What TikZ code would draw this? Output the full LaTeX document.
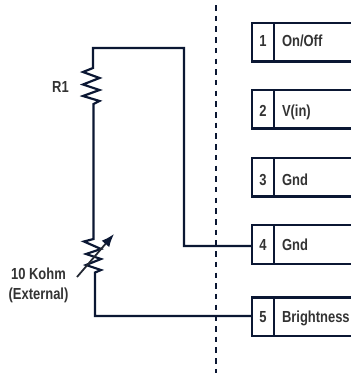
\documentclass[tikz,border=0pt]{standalone}
\usepackage{graphicx}
\usepackage{fontspec}
\setmainfont{Liberation Sans}
\newcommand{\cnd}[1]{\scalebox{0.81}[1]{\bfseries #1}}
\usetikzlibrary{arrows.meta,positioning}
\definecolor{wire}{HTML}{0B1733}
\definecolor{ink}{HTML}{333333}
\tikzset{
  wireline/.style={draw=wire,line width=2.2pt,line join=miter},
  numcell/.style={draw=wire,line width=2.2pt,minimum width=22pt,minimum height=38.5pt,inner sep=0pt,outer sep=0pt,anchor=north west,text=ink,text height=12pt,text depth=0.6pt,font=\fontsize{16}{15}\selectfont},
  labcell/.style={draw=wire,line width=2.2pt,minimum width=84pt,minimum height=38.5pt,inner sep=0pt,outer sep=0pt,anchor=north west,text=ink,text height=12pt,text depth=0.6pt,font=\fontsize{16}{15}\selectfont,text width=68pt,align=left},
  lbl/.style={text=ink,font=\fontsize{16}{20}\selectfont,align=center,inner sep=0pt},
  divider/.style={draw=wire,line width=2.6pt,dash pattern=on 5.5pt off 5.2pt}
}
\begin{document}
\begin{tikzpicture}[x=1pt,y=-1pt]
\useasboundingbox (0,0) rectangle (351,373);
\coordinate (dtop) at (216,5);
\coordinate (dbot) at (216,373);
\draw[divider] (dtop) -- (dbot);
\foreach \n/\y/\t/\d in {1/23/{On/Off}/1,2/90/V(in)/-2,3/158/Gnd/-2.5,4/225.3/Gnd/0,5/297.5/Brightness/0}{
  \node[numcell] (n\n) at (252,\y) {\raisebox{\d pt}{\cnd{\n}}};
  \node[labcell] (l\n) at (274,\y) {\raisebox{\d pt}{\cnd{\t}}};
}
\coordinate (t1) at (93,48);
\coordinate (t2) at (184,48);
\coordinate (t3) at (184,246);
\coordinate (b1) at (95,316);
\draw[wireline] (n4.west |- t3) -- (t3) -- (t2) -- (t1) -- (93,68) -- (83,72) -- (99.5,78) -- (83,84.5) -- (99.5,90) -- (83,96) -- (99.5,101) -- (93.5,104)
  -- (93.5,239) -- (84,241.5) -- (101,249) -- (86,254) -- (101,259) -- (86,265) -- (101,270) -- (95,272.5) -- (95,316) -- (n5.west |- b1);
\coordinate (as) at (77,277);
\coordinate (ae) at (114,234);
\draw[draw=ink!60!wire,line width=1.8pt,-{Latex[length=13pt,width=10pt,color=wire]}] (as) -- (ae);
\node[lbl] (r1) at (60.5,87) {\cnd{R1}};
\node[lbl] (pot) at (38.5,285) {\cnd{10 Kohm}\\\cnd{(External)}};
\end{tikzpicture}
\end{document}
